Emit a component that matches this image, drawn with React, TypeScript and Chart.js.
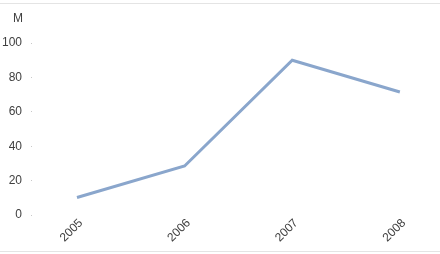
import React, { useEffect, useRef } from "react";
import { Chart, registerables } from "chart.js";

Chart.register(...registerables);

const categories = ["2005", "2006", "2007", "2008"];
const values = [10.2, 28.5, 90, 71.5];
const yTicks = [0, 20, 40, 60, 80, 100];
const unitLabel = "M";

const framePlugin = {
  id: "frame",
  beforeDraw(chart: any) {
    const ctx = chart.ctx;
    ctx.save();
    ctx.fillStyle = "#e4e4e4";
    ctx.fillRect(0, 3, chart.width, 1);
    ctx.fillRect(0, 251, chart.width, 1);
    ctx.fillStyle = "#404040";
    ctx.font = "12px 'Liberation Sans', Arial, sans-serif";
    ctx.textAlign = "center";
    ctx.textBaseline = "middle";
    ctx.fillText(unitLabel, 18, 19);
    ctx.restore();
  },
};

export default function App() {
  const ref = useRef<HTMLCanvasElement | null>(null);
  useEffect(() => {
    if (!ref.current) return;
    const chart = new Chart(ref.current, {
      type: "line",
      data: {
        datasets: [
          {
            data: values.map((v, i) => ({ x: i, y: v })),
            borderColor: "#8aa6cc",
            borderWidth: 3,
            pointRadius: 0,
            tension: 0,
          },
        ],
      },
      options: {
        animation: false,
        responsive: false,
        maintainAspectRatio: false,
        layout: { padding: { top: 43, right: 10, left: 0, bottom: 0 } },
        plugins: { legend: { display: false }, tooltip: { enabled: false } },
        scales: {
          x: {
            type: "linear",
            min: -0.418,
            max: 3.28,
            grid: { display: false },
            border: { display: false },
            afterBuildTicks: (scale: any) => {
              scale.ticks = categories.map((_, i) => ({ value: i }));
            },
            afterFit: (scale: any) => {
              scale.height = 39;
            },
            ticks: {
              autoSkip: false,
              minRotation: 45,
              maxRotation: 45,
              padding: -7,
              labelOffset: 4,
              color: "#404040",
              font: { family: "'Liberation Sans', Arial, sans-serif", size: 12 },
              callback: (v: any) => categories[v] ?? "",
            },
          },
          y: {
            min: 0,
            max: 100,
            afterBuildTicks: (scale: any) => {
              scale.ticks = yTicks.map((v) => ({ value: v }));
            },
            afterFit: (scale: any) => {
              scale.width = 32;
            },
            grid: {
              display: true,
              drawOnChartArea: false,
              drawTicks: true,
              tickLength: 1,
              tickColor: "#c8c8c8",
            },
            border: { display: false },
            ticks: {
              padding: 9,
              color: "#404040",
              font: { family: "'Liberation Sans', Arial, sans-serif", size: 12 },
            },
          },
        },
      },
      plugins: [framePlugin],
    });
    return () => chart.destroy();
  }, []);
  return (
    <div style={{ position: "absolute", left: 0, top: 0, width: 440, height: 254, background: "#fff" }}>
      <canvas ref={ref} width={440} height={254} style={{ display: "block" }} />
    </div>
  );
}
